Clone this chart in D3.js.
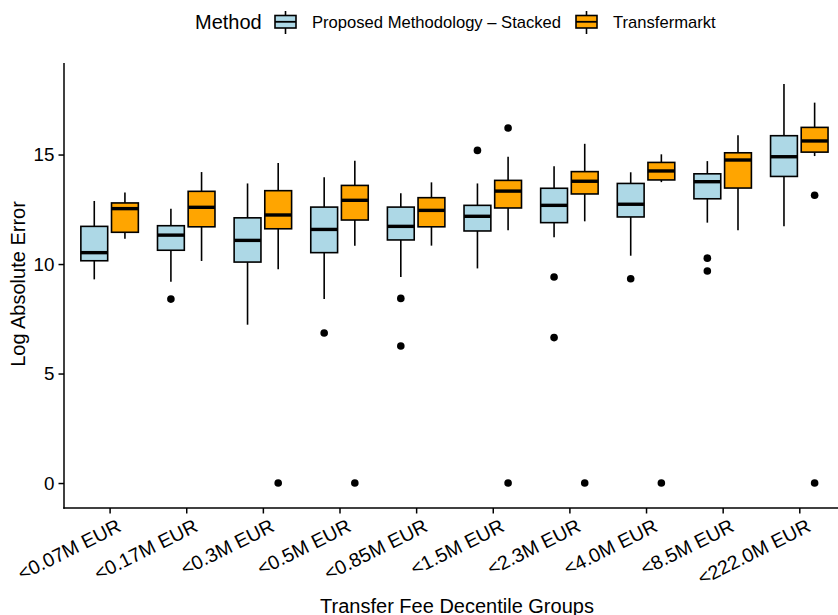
<!DOCTYPE html>
<html>
<head>
<meta charset="utf-8">
<script src="https://cdn.jsdelivr.net/npm/d3@7"></script>
<style>
  html, body { margin: 0; padding: 0; background: #fff; }
  svg { display: block; font-family: "Liberation Sans", Arial, Helvetica, sans-serif; }
</style>
</head>
<body>
<svg id="chart" width="838" height="615"></svg>
<script>
const categories = ["<0.07M EUR","<0.17M EUR","<0.3M EUR","<0.5M EUR","<0.85M EUR","<1.5M EUR","<2.3M EUR","<4.0M EUR","<8.5M EUR","<222.0M EUR"];
const methods = ["Proposed Methodology \u2013 Stacked", "Transfermarkt"];
const methodColors = ["#ADD8E6", "#FFA500"];

const stackedLow  = [9.30, 9.19, 7.23, 8.40, 9.41, 9.80, 11.22, 10.38, 11.89, 11.72];
const stackedQ1   = [10.15, 10.63, 10.09, 10.52, 11.10, 11.51, 11.89, 12.15, 12.98, 14.00];
const stackedMed  = [10.52, 11.32, 11.08, 11.58, 11.72, 12.18, 12.68, 12.73, 13.76, 14.90];
const stackedQ3   = [11.72, 11.75, 12.11, 12.60, 12.60, 12.68, 13.46, 13.68, 14.12, 15.86];
const stackedHigh = [12.88, 12.53, 13.68, 13.96, 13.23, 13.68, 14.46, 14.19, 14.70, 18.22];
const stackedOutliers = [[], [8.40], [], [6.85], [8.43, 6.26], [15.19], [9.41, 6.64], [9.33], [10.27, 9.68], []];

const tmLow  = [11.16, 10.14, 9.76, 10.84, 10.84, 11.54, 11.95, 13.74, 11.54, 14.93];
const tmQ1   = [11.45, 11.70, 11.61, 12.01, 11.70, 12.56, 13.20, 13.84, 13.47, 15.11];
const tmMed  = [12.53, 12.59, 12.24, 12.91, 12.45, 13.33, 13.78, 14.25, 14.75, 15.62];
const tmQ3   = [12.79, 13.32, 13.35, 13.59, 13.03, 13.82, 14.22, 14.64, 15.08, 16.24];
const tmHigh = [13.27, 14.20, 14.61, 14.72, 13.73, 14.90, 15.49, 15.01, 15.88, 17.37];
const tmOutliers = [[], [], [0], [0], [], [16.21, 0], [0], [0], [], [13.14, 0]];

const yTicks = [0, 5, 10, 15];
const xTitle = "Transfer Fee Decentile Groups";
const yTitle = "Log Absolute Error";
const legendTitle = "Method";

// build series table
const series = [
  {low: stackedLow, q1: stackedQ1, med: stackedMed, q3: stackedQ3, high: stackedHigh, out: stackedOutliers},
  {low: tmLow, q1: tmQ1, med: tmMed, q3: tmQ3, high: tmHigh, out: tmOutliers}
];
const boxes = [];
series.forEach((s, m) => {
  categories.forEach((c, i) => {
    boxes.push({cat: c, m, low: s.low[i], q1: s.q1[i], med: s.med[i], q3: s.q3[i], high: s.high[i], out: s.out[i]});
  });
});

const svg = d3.select("#chart");
const pLeft = 64, pRight = 845, pTop = 63, pBottom = 508;

const x = d3.scalePoint().domain(categories).range([109.6, 799.3]);
const step = x.step();
const y = d3.scaleLinear().domain([-1.14, 19.18]).range([pBottom, pTop]);
const dodge = d3.scaleBand().domain(d3.range(methods.length)).range([-0.4 * step, 0.4 * step]);
const bw = 0.35 * step;

const g = svg.append("g");

// boxes
const bg = g.selectAll("g.box").data(boxes).join("g").attr("class", "box")
  .attr("transform", d => `translate(${x(d.cat) + dodge(d.m) + dodge.bandwidth() / 2},0)`);

bg.append("line").attr("x1", 0).attr("x2", 0)
  .attr("y1", d => y(d.q3)).attr("y2", d => y(d.high))
  .attr("stroke", "#000").attr("stroke-width", 1.6);
bg.append("line").attr("x1", 0).attr("x2", 0)
  .attr("y1", d => y(d.q1)).attr("y2", d => y(d.low))
  .attr("stroke", "#000").attr("stroke-width", 1.6);
bg.append("rect")
  .attr("x", -bw / 2).attr("width", bw)
  .attr("y", d => y(d.q3)).attr("height", d => y(d.q1) - y(d.q3))
  .attr("fill", d => methodColors[d.m]).attr("stroke", "#000").attr("stroke-width", 1.6);
bg.append("line").attr("x1", -bw / 2).attr("x2", bw / 2)
  .attr("y1", d => y(d.med)).attr("y2", d => y(d.med))
  .attr("stroke", "#000").attr("stroke-width", 3.4);
bg.selectAll("circle").data(d => d.out).join("circle")
  .attr("cx", 0).attr("cy", v => y(v)).attr("r", 3.8).attr("fill", "#000");

// axes
const yAxis = d3.axisLeft(y).tickValues(yTicks).tickSize(5.5).tickPadding(4).tickSizeOuter(0);
const ya = svg.append("g").attr("transform", `translate(${pLeft},0)`).call(yAxis);
ya.select(".domain").remove();
ya.selectAll(".tick line").attr("stroke", "#000").attr("stroke-width", 1.5);
ya.selectAll(".tick text").attr("font-size", 18.8).attr("fill", "#000").attr("font-family", null);
svg.append("line").attr("x1", pLeft).attr("x2", pLeft).attr("y1", pTop).attr("y2", pBottom + 0.75)
  .attr("stroke", "#000").attr("stroke-width", 1.5);

const xAxis = d3.axisBottom(x).tickSize(5.5).tickSizeOuter(0);
const xa = svg.append("g").attr("transform", `translate(0,${pBottom})`).call(xAxis);
xa.select(".domain").remove();
xa.selectAll(".tick line").attr("stroke", "#000").attr("stroke-width", 1.5);
xa.selectAll(".tick text")
  .attr("font-size", 19.5).attr("fill", "#000").attr("font-family", null)
  .attr("text-anchor", "end")
  .attr("y", 0).attr("dy", "0.72em")
  .attr("transform", "translate(6,10) rotate(-26.5)");
svg.append("line").attr("x1", pLeft - 0.75).attr("x2", pRight).attr("y1", pBottom).attr("y2", pBottom)
  .attr("stroke", "#000").attr("stroke-width", 1.5);

// titles
svg.append("text").attr("transform", `translate(24.5,284) rotate(-90)`)
  .attr("text-anchor", "middle").attr("font-size", 20).attr("fill", "#000").text(yTitle);
svg.append("text").attr("x", 457).attr("y", 612.5)
  .attr("text-anchor", "middle").attr("font-size", 20).attr("fill", "#000").text(xTitle);

// legend
const lg = svg.append("g");
lg.append("text").attr("x", 195).attr("y", 28.5).attr("font-size", 20).attr("fill", "#000").text(legendTitle);
const keyX = [274, 575], labX = [312, 613];
methods.forEach((mname, m) => {
  const k = lg.append("g").attr("transform", `translate(${keyX[m]},0)`);
  k.append("line").attr("x1", 11.5).attr("x2", 11.5).attr("y1", 11).attr("y2", 34).attr("stroke", "#000").attr("stroke-width", 1.6);
  k.append("rect").attr("x", 1).attr("y", 15.5).attr("width", 21).attr("height", 12.5)
    .attr("fill", methodColors[m]).attr("stroke", "#000").attr("stroke-width", 1.6);
  k.append("line").attr("x1", 1).attr("x2", 22).attr("y1", 21.8).attr("y2", 21.8).attr("stroke", "#000").attr("stroke-width", 1.8);
  lg.append("text").attr("x", labX[m]).attr("y", 27.5).attr("font-size", 16.6).attr("fill", "#000").text(mname);
});
</script>
</body>
</html>
